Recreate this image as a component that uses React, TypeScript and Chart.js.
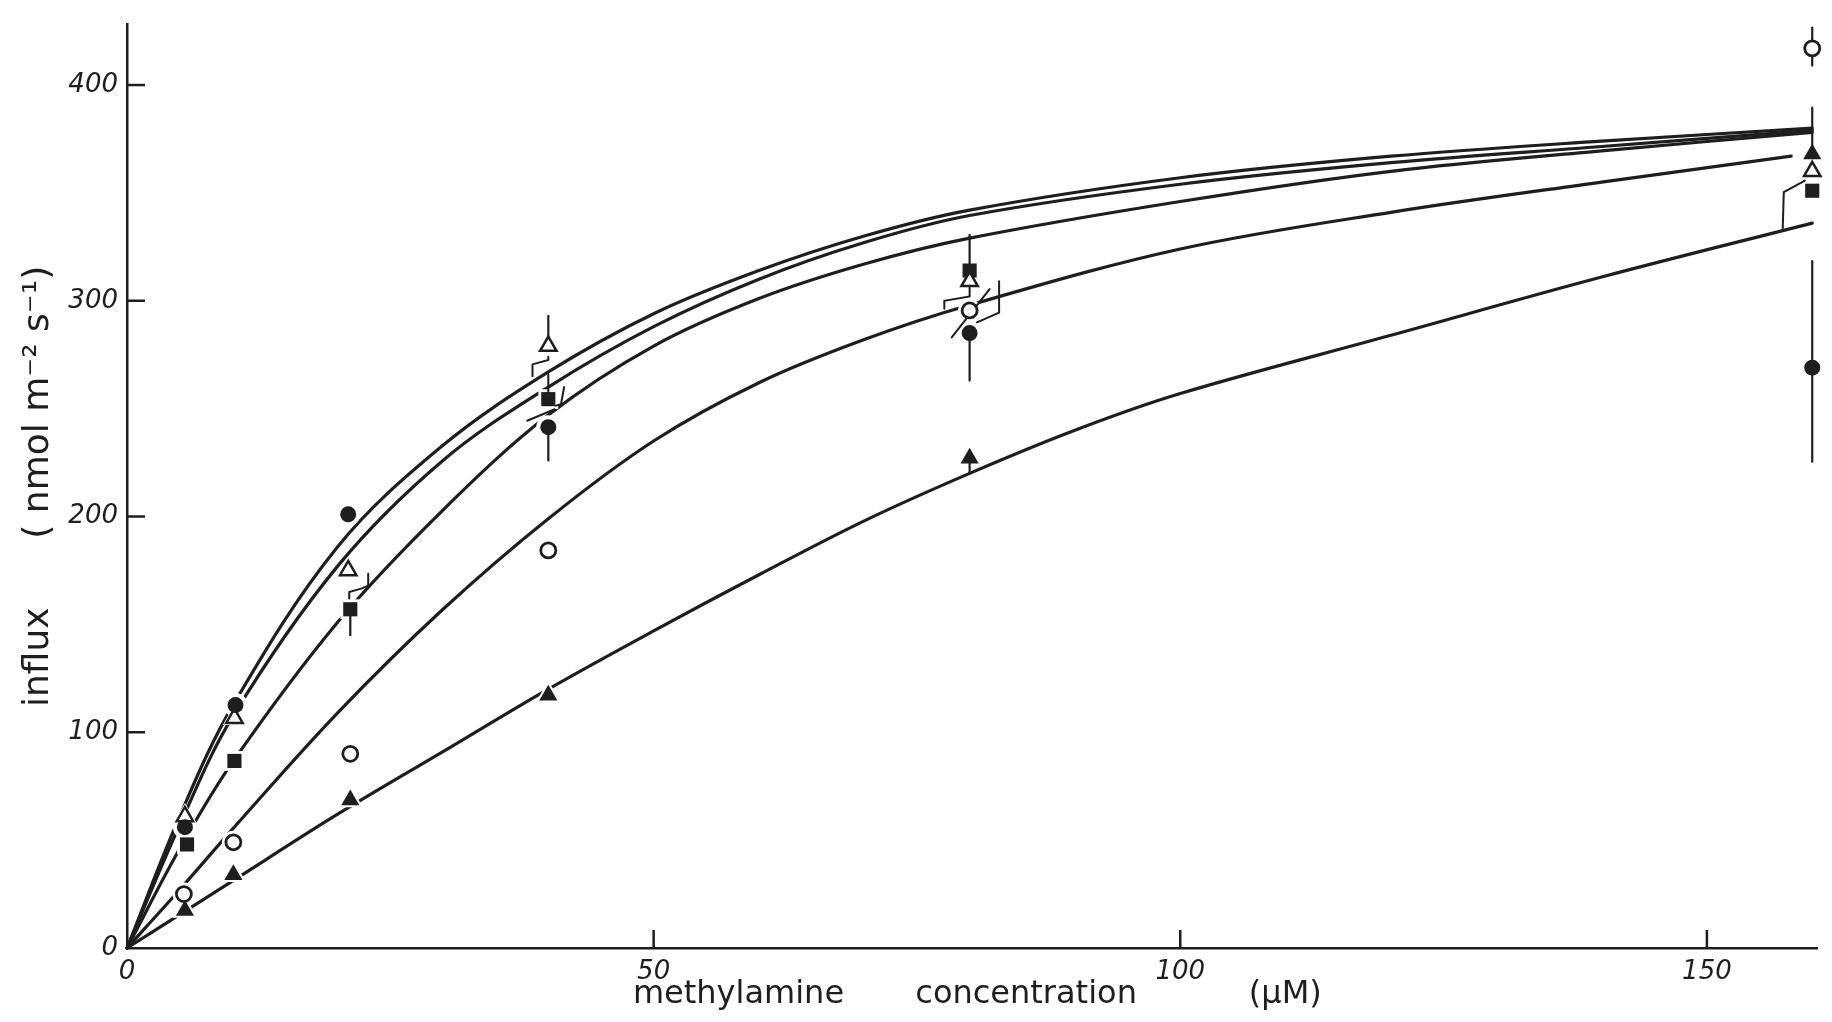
import React, { useEffect, useRef } from "react";
import { Chart, registerables } from "chart.js";

Chart.register(...registerables);

const INK = "#1e1e1e";

// ---- axes ----
const X_TICKS = [0, 50, 100, 150];
const Y_TICKS = [0, 100, 200, 300, 400];
const X_TITLE = " methylamine       concentration           (µM)";
const Y_TITLE = "influx      ( nmol m⁻² s⁻¹)";

// ---- fitted curves ----
const curveAX = [0, 5, 10, 20, 30, 40, 50, 60, 70, 80, 100, 120, 140, 160];
const curveAY = [0, 61, 112, 186, 233, 267, 294, 314, 330, 342, 357, 367, 374, 380];
const curveBX = [0, 5, 10, 20, 30, 40, 50, 60, 70, 80, 100, 120, 140, 160];
const curveBY = [0, 57, 107, 177, 226, 260, 288, 310, 327, 339.5, 354, 364, 371.5, 379];
const curveCX = [0, 5, 10, 20, 30, 40, 50, 60, 70, 80, 100, 120, 140, 160];
const curveCY = [0, 46, 86, 151, 203, 247, 279, 301, 317, 329, 346, 360, 369.5, 378];
const curveDX = [0, 5, 10, 20, 30, 40, 50, 60, 70, 80, 100, 120, 140, 158];
const curveDY = [0, 27, 55, 109, 157, 199, 235, 262, 282, 298, 324, 341, 355, 367];
const curveEX = [0, 5, 10, 20, 30, 40, 50, 60, 70, 80, 90, 100, 120, 140, 160];
const curveEY = [0, 15.5, 31, 62, 91, 120, 147, 173, 198, 220, 240, 257, 284, 311, 336];

// ---- measured points ----
const filledCircleX = [5.5, 10.3, 21, 40, 80, 160];
const filledCircleY = [56, 112.6, 201, 241.4, 285, 269];
const openTriangleX = [5.5, 10.2, 21, 40, 80, 160];
const openTriangleY = [61, 106.5, 175, 279, 309, 360];
const filledSquareX = [5.7, 10.2, 21.2, 40, 80, 160];
const filledSquareY = [48, 86.7, 157, 254.4, 314, 351];
const openCircleX = [5.4, 10.1, 21.2, 40, 80, 160];
const openCircleY = [25, 49, 90, 184.3, 295.5, 417];
const filledTriangleX = [5.5, 10.1, 21.2, 40, 80, 160];
const filledTriangleY = [17.4, 34, 68.6, 117.2, 227, 368];

// ---- error bars ----
const errorX = [40, 40, 80, 80, 21.2, 160, 160, 160, 80];
const errorLow = [279, 226, 314, 263, 145, 225.4, 409, 368, 220];
const errorHigh = [293, 241.4, 330.6, 285, 157, 318.4, 426.6, 389.5, 227];

// ---- hand-drawn brackets linking points to curves ----
const bracketXs = [
  [21.1, 21.1, 22.3, 22.9, 22.9],
  [40, 40, 38.5, 38.5],
  [40, 40],
  [41.5, 41.2, 40.7],
  [38, 40.6],
  [80, 80, 77.6, 77.6],
  [78.3, 81.9],
  [80.7, 82.8, 82.8],
  [159.3, 157.3, 157.2],
];
const bracketYs = [
  [162, 165, 166.7, 168, 173.5],
  [274, 272.5, 270.5, 265],
  [266, 257.5],
  [260, 252, 251.4],
  [244.4, 249.7],
  [307, 302, 300, 296.3],
  [283, 305.4],
  [290, 294.5, 309],
  [355.7, 350.4, 333.6],
];

const pts = (xs: number[], ys: number[]) => xs.map((x, i) => ({ x, y: ys[i] }));

const inwardTicks = {
  id: "inwardTicks",
  afterDatasetsDraw(chart: any) {
    const { ctx, chartArea, scales } = chart;
    ctx.save();
    ctx.strokeStyle = INK;
    ctx.lineWidth = 2.5;
    for (const v of Y_TICKS) {
      if (v === 0) continue;
      const y = scales.y.getPixelForValue(v);
      ctx.beginPath();
      ctx.moveTo(chartArea.left, y);
      ctx.lineTo(chartArea.left + 18, y);
      ctx.stroke();
    }
    for (const v of X_TICKS) {
      if (v === 0) continue;
      const x = scales.x.getPixelForValue(v);
      ctx.beginPath();
      ctx.moveTo(x, chartArea.bottom);
      ctx.lineTo(x, chartArea.bottom - 18);
      ctx.stroke();
    }
    ctx.restore();
  },
};

export default function App() {
  const ref = useRef<HTMLCanvasElement | null>(null);

  useEffect(() => {
    if (!ref.current) return;

    const curves = [
      [curveAX, curveAY],
      [curveBX, curveBY],
      [curveCX, curveCY],
      [curveDX, curveDY],
      [curveEX, curveEY],
    ].map(([xs, ys]) => ({
      type: "line" as const,
      data: pts(xs, ys),
      showLine: true,
      borderColor: INK,
      borderWidth: 3.2,
      pointRadius: 0,
      tension: 0.35,
      fill: false,
      clip: false as const,
      order: 5,
    }));

    const markerDefs = [
      { xs: filledCircleX, ys: filledCircleY, style: "circle", r: 8, bg: INK, bw: 0 },
      { xs: openTriangleX, ys: openTriangleY, style: "triangle", r: 9.5, bg: "#ffffff", bw: 2.5 },
      { xs: filledSquareX, ys: filledSquareY, style: "rect", r: 10, bg: INK, bw: 0 },
      { xs: openCircleX, ys: openCircleY, style: "circle", r: 7.5, bg: "#ffffff", bw: 2.8 },
      { xs: filledTriangleX, ys: filledTriangleY, style: "triangle", r: 10.5, bg: INK, bw: 0 },
    ];

    const halos = markerDefs.map((m) => ({
      type: "scatter" as const,
      data: pts(m.xs, m.ys),
      pointStyle: m.style,
      pointRadius: m.r + 4,
      pointBackgroundColor: "#ffffff",
      pointBorderColor: "#ffffff",
      pointBorderWidth: 0,
      showLine: false,
      clip: false as const,
      order: 4,
    }));

    const errorBars = errorX.map((x, i) => ({
      type: "line" as const,
      data: [
        { x, y: errorLow[i] },
        { x, y: errorHigh[i] },
      ],
      showLine: true,
      borderColor: INK,
      borderWidth: 2.2,
      pointRadius: 0,
      clip: false as const,
      order: 3,
    }));

    const brackets = bracketXs.map((xs, i) => ({
      type: "line" as const,
      data: pts(xs, bracketYs[i]),
      showLine: true,
      borderColor: INK,
      borderWidth: 2,
      pointRadius: 0,
      tension: 0,
      clip: false as const,
      order: 3,
    }));

    const markers = markerDefs.map((m) => ({
      type: "scatter" as const,
      data: pts(m.xs, m.ys),
      pointStyle: m.style,
      pointRadius: m.r,
      pointBackgroundColor: m.bg,
      pointBorderColor: INK,
      pointBorderWidth: m.bw,
      showLine: false,
      clip: false as const,
      order: 1,
    }));

    const chart = new Chart(ref.current, {
      type: "scatter",
      data: { datasets: [...markers, ...errorBars, ...brackets, ...halos, ...curves] as any },
      plugins: [inwardTicks],
      options: {
        animation: false,
        responsive: false,
        layout: { padding: { left: 13, right: 8, top: 12, bottom: 4 } },
        plugins: { legend: { display: false }, tooltip: { enabled: false } },
        elements: { line: { borderCapStyle: "round" } },
        scales: {
          x: {
            type: "linear",
            min: 0,
            max: 160.5,
            afterBuildTicks: (scale: any) => {
              scale.ticks = X_TICKS.map((v) => ({ value: v }));
            },
            afterFit: (scale: any) => {
              scale.height = 70;
            },
            grid: { display: true, drawOnChartArea: false, drawTicks: false },
            border: { display: true, color: INK, width: 2.5 },
            ticks: {
              color: INK,
              padding: 9,
              maxRotation: 0,
              font: { family: "DejaVu Sans", size: 26, style: "italic" },
              callback: (v: any) => String(v),
            },
            title: {
              display: true,
              text: X_TITLE,
              color: INK,
              font: { family: "DejaVu Sans", size: 32 },
              padding: { top: 4, bottom: 4 },
            },
          },
          y: {
            type: "linear",
            min: 0,
            max: 428,
            afterBuildTicks: (scale: any) => {
              scale.ticks = Y_TICKS.map((v) => ({ value: v }));
            },
            afterFit: (scale: any) => {
              scale.width = 114;
            },
            grid: { display: true, drawOnChartArea: false, drawTicks: false },
            border: { display: true, color: INK, width: 2.5 },
            ticks: {
              color: INK,
              padding: 9,
              font: { family: "DejaVu Sans", size: 26, style: "italic" },
              callback: (v: any) => String(v),
            },
            title: {
              display: true,
              text: Y_TITLE,
              color: INK,
              font: { family: "DejaVu Sans", size: 36 },
              padding: { top: 4, bottom: 4 },
            },
          },
        },
      } as any,
    });

    return () => chart.destroy();
  }, []);

  return (
    <div style={{ position: "fixed", left: 0, top: 0, width: 1832, height: 1022, background: "#ffffff" }}>
      <canvas ref={ref} width={1832} height={1022} style={{ display: "block" }} />
    </div>
  );
}
